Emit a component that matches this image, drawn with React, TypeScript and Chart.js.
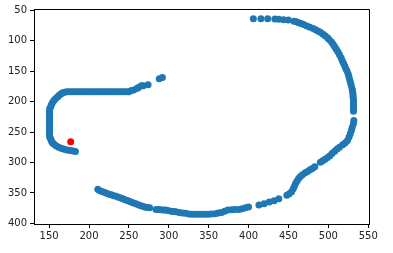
import React, { useEffect, useRef } from "react";
import { Chart, registerables } from "chart.js";

Chart.register(...registerables);

// Blue trajectory points (x, y)
const blueX: number[] = [
  183, 180, 177, 174, 171, 168, 165, 162, 159, 157, 155, 154, 153, 152, 151,
  150.5, 150.5, 150.5, 150.5, 150.5, 150.5, 150.5, 150.5, 150.5, 150.5, 150.5, 150.5, 150.5, 150.5, 150.5,
  151, 152, 153, 154, 155.5, 157, 159, 161, 163, 165, 167, 169.5, 172,
  175, 178, 181, 184, 187, 190, 193, 196, 199, 202, 205, 208, 211, 214, 217, 220, 223, 226, 229, 232, 235, 238, 241, 244, 247, 250,
  253, 256, 260, 262, 265.5, 268, 274, 288, 292,
  211, 213, 216, 219, 222, 225, 228, 231, 234, 237, 240, 243, 246, 249, 252, 255, 258, 261, 264, 267, 270, 273, 276,
  284, 287, 290, 293, 296, 299, 303, 306, 309, 313, 317, 321, 325, 329, 333, 337, 341, 345, 349, 353, 358, 362, 366, 370, 374, 379, 383, 388, 392, 396, 400,
  413, 419.5, 426, 432, 438,
  448, 451, 454, 456, 457.5, 459, 461, 463, 465, 467.5, 471, 474, 477, 480, 483,
  490, 493, 496, 499, 502, 505, 508, 511, 514, 518, 521, 524, 526, 527.5, 529, 530, 531.5, 532,
  531.5, 531.5, 531.5, 531.5, 531.5, 531.5, 531, 531, 530.5, 530, 529, 528, 527, 526, 525, 523.5, 522, 520.5, 519, 517.5,
  516, 514, 512, 510, 508, 506, 504, 501, 499, 496, 493, 490, 487, 484, 481, 477, 473, 469, 466, 463, 460, 457,
  450, 444, 438, 433, 424, 415.5, 406,
];
const blueY: number[] = [
  282, 281, 280.5, 280, 279, 278, 276.5, 275, 273, 271, 269, 267, 265, 262, 259,
  256, 253, 250, 247, 244, 241, 238, 235, 232, 229, 226, 223, 220, 217, 214,
  211, 208, 205, 202, 199, 196.5, 194, 191.5, 189, 187, 185.5, 184.5, 184,
  184, 184, 184, 184, 184, 184, 184, 184, 184, 184, 184, 184, 184, 184, 184, 184, 184, 184, 184, 184, 184, 184, 184, 184, 184, 184,
  182, 181, 178.5, 177, 174, 174, 172.5, 162.5, 160.5,
  344, 346, 347.5, 349, 350.5, 352, 353, 354.5, 355.5, 357, 358.5, 360, 361.5, 363, 364.5, 366, 367.5, 369, 370.5, 372, 373, 374, 374.5,
  377, 377, 377.5, 378, 378, 379, 380, 380.5, 381, 382, 383, 383.5, 384.5, 385, 385, 385, 385, 385, 385, 384.5, 384, 383, 382, 380, 378, 377.5, 377, 377, 376, 374.5, 373,
  370, 367.7, 365, 363, 359.7,
  354, 351.5, 348, 343, 339, 334, 330, 326, 323, 320, 317, 315, 312, 310, 307,
  299.5, 297, 294.5, 292, 289, 285, 281.5, 278, 275, 271, 268, 264, 258, 253, 247, 242, 236, 231,
  216, 212, 208, 204, 200, 196, 192, 188, 184, 180, 175, 170, 165, 160, 155, 150, 146, 141, 137, 133,
  128, 123, 118, 114, 110, 106, 102, 98, 95, 92, 89, 86, 84, 82, 80, 78, 76, 73.5, 72, 70.5, 69, 68,
  66, 65.5, 65, 64.5, 64, 64, 64,
];

// Red marker
const redX: number[] = [177];
const redY: number[] = [266];

// Axis ticks
const xTicks: number[] = [150, 200, 250, 300, 350, 400, 450, 500, 550];
const yTicks: number[] = [50, 100, 150, 200, 250, 300, 350, 400];

const framePlugin = {
  id: "frame",
  afterDraw(chart: any) {
    const { ctx, chartArea } = chart;
    ctx.save();
    ctx.strokeStyle = "#000";
    ctx.lineWidth = 1;
    ctx.beginPath();
    ctx.moveTo(Math.round(chartArea.left) + 0.5, Math.round(chartArea.top) + 0.5);
    ctx.lineTo(Math.round(chartArea.right) + 0.5, Math.round(chartArea.top) + 0.5);
    ctx.lineTo(Math.round(chartArea.right) + 0.5, Math.round(chartArea.bottom) + 0.5);
    ctx.stroke();
    ctx.restore();
  },
};

export default function App() {
  const ref = useRef<HTMLCanvasElement | null>(null);

  useEffect(() => {
    document.body.style.margin = "0";
    if (!ref.current) return;
    const font = { family: "'DejaVu Sans', sans-serif", size: 10 };
    const chart = new Chart(ref.current, {
      type: "scatter",
      data: {
        datasets: [
          {
            data: redX.map((x, i) => ({ x, y: redY[i] })),
            backgroundColor: "#ff0000",
            borderWidth: 0,
            pointRadius: 3.5,
          },
          {
            data: blueX.map((x, i) => ({ x, y: blueY[i] })),
            backgroundColor: "#1f77b4",
            borderWidth: 0,
            pointRadius: 3.5,
          },
        ],
      },
      plugins: [framePlugin],
      options: {
        animation: false,
        responsive: false,
        devicePixelRatio: 1,
        layout: { padding: { top: 6, right: 24, left: 0, bottom: 0 } },
        plugins: { legend: { display: false }, tooltip: { enabled: false } },
        scales: {
          x: {
            type: "linear",
            min: 131,
            max: 551,
            afterFit: (s: any) => {
              s.height = 29;
            },
            afterBuildTicks: (s: any) => {
              s.ticks = xTicks.map((v) => ({ value: v }));
            },
            grid: { drawOnChartArea: false, drawTicks: true, tickLength: 4, color: "#000" },
            border: { display: true, color: "#000", width: 1 },
            ticks: { font, color: "#222", padding: 2, maxRotation: 0, autoSkip: false },
          },
          y: {
            type: "linear",
            reverse: true,
            min: 48,
            max: 401,
            afterFit: (s: any) => {
              s.width = 34;
            },
            afterBuildTicks: (s: any) => {
              s.ticks = yTicks.map((v) => ({ value: v }));
            },
            grid: { drawOnChartArea: false, drawTicks: true, tickLength: 4, color: "#000" },
            border: { display: true, color: "#000", width: 1 },
            ticks: { font, color: "#222", padding: 3, autoSkip: false },
          },
        },
      },
    });
    return () => chart.destroy();
  }, []);

  return (
    <div style={{ width: 393, height: 253, background: "#fff" }}>
      <canvas ref={ref} width={393} height={253} />
    </div>
  );
}
